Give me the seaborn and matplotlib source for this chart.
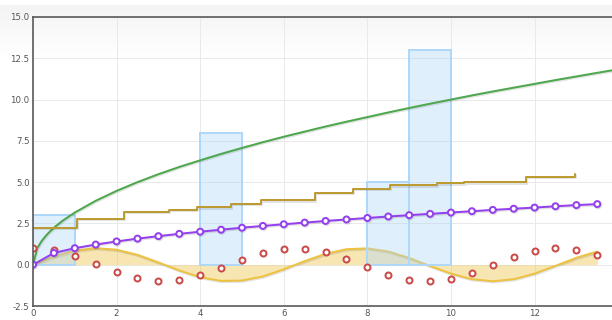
import matplotlib
matplotlib.use("Agg")
import matplotlib.pyplot as plt
import matplotlib.patheffects as pe
import numpy as np
import pandas as pd
import seaborn as sns

# ---- data ----
x_half = [0, 0.5, 1, 1.5, 2, 2.5, 3, 3.5, 4, 4.5, 5, 5.5, 6, 6.5,
          7, 7.5, 8, 8.5, 9, 9.5, 10, 10.5, 11, 11.5, 12, 12.5, 13, 13.5]
wave_area = [0, 0.48, 0.84, 1.0, 0.91, 0.6, 0.14, -0.35, -0.76, -0.98,
             -0.96, -0.71, -0.28, 0.22, 0.66, 0.94, 0.99, 0.8, 0.41, -0.08,
             -0.54, -0.88, -1.0, -0.88, -0.54, -0.07, 0.42, 0.8]
wave_points = [1.0, 0.88, 0.54, 0.07, -0.42, -0.8, -0.99, -0.94, -0.65, -0.21,
               0.28, 0.71, 0.96, 0.98, 0.75, 0.35, -0.15, -0.6, -0.91, -1.0,
               -0.84, -0.48, 0.0, 0.48, 0.84, 1.0, 0.91, 0.6]
root_points = [0, 0.71, 1.0, 1.22, 1.41, 1.58, 1.73, 1.87, 2.0, 2.12,
               2.24, 2.35, 2.45, 2.55, 2.65, 2.74, 2.83, 2.92, 3.0, 3.08,
               3.16, 3.24, 3.32, 3.39, 3.46, 3.54, 3.61, 3.67]

curve_x = [0, 0.1, 0.2, 0.3, 0.4, 0.5, 0.7, 1.0, 1.5, 2, 2.5, 3, 3.5, 4,
           4.5, 5, 5.5, 6, 6.5, 7, 7.5, 8, 8.5, 9, 9.5, 10, 10.5, 11,
           11.5, 12, 12.5, 13, 13.5, 13.9]
curve_y = [0, 1.0, 1.41, 1.73, 2.0, 2.24, 2.65, 3.16, 3.87, 4.47, 5.0, 5.48,
           5.92, 6.32, 6.71, 7.07, 7.42, 7.75, 8.06, 8.37, 8.66, 8.94, 9.22,
           9.49, 9.75, 10.0, 10.25, 10.49, 10.72, 10.95, 11.18, 11.4, 11.62,
           11.79]

bar_x = [0, 4, 8, 9]
bar_h = [3, 8, 5, 13]

step_x = [0, 1.06, 2.18, 3.26, 3.92, 4.74, 5.45, 6.75, 7.65, 8.54,
          9.66, 10.32, 11.8, 12.96]
step_y = [2.22, 2.77, 3.19, 3.33, 3.47, 3.67, 3.9, 4.36, 4.6, 4.8,
          4.93, 4.99, 5.31, 5.51]

x_ticks = [0, 2, 4, 6, 8, 10, 12]
y_ticks = [-2.5, 0.0, 2.5, 5.0, 7.5, 10.0, 12.5, 15.0]

# ---- style ----
C_YELLOW = "#edc240"
C_BLUE = "#afd8f8"
C_RED = "#cb4b4b"
C_GREEN = "#4da74d"
C_PURPLE = "#9440ed"
C_GOLD = "#bd9b33"
PX = 0.72  # one pixel in points at 100 dpi

sns.set_theme(style="white")
plt.rcParams["font.family"] = ["DejaVu Sans"]

fig = plt.figure(figsize=(6.12, 3.2), dpi=100)
fig.patch.set_facecolor("white")

# soft page shading along the top
bg = fig.add_axes([0, 0, 1, 1], zorder=-10)
grad = np.linspace(0, 1, 256).reshape(-1, 1)
bg.imshow(np.dstack([0.955 + 0.045 * grad] * 3), extent=[0, 1, 0.82, 0.985],
          aspect="auto", origin="upper", transform=bg.transAxes)
bg.set_xlim(0, 1)
bg.set_ylim(0, 1)
bg.axis("off")

ax = fig.add_axes([33 / 612, 14 / 320, 581 / 612, 289 / 320])
ax.set_facecolor("none")

shadow = [pe.SimpleLineShadow(offset=(0.6, -0.9), shadow_color="k", alpha=0.12),
          pe.Normal()]

df_half = pd.DataFrame({"x": x_half, "area": wave_area,
                        "pts": wave_points, "root": root_points})

# filled wave
ax.fill_between(x_half, wave_area, 0, color=C_YELLOW, alpha=0.4, lw=0, zorder=2)
sns.lineplot(data=df_half, x="x", y="area", color=C_YELLOW, lw=2 * PX,
             ax=ax, zorder=3, path_effects=shadow)

# bars
ax.bar(bar_x, bar_h, width=1, align="edge", color=C_BLUE, alpha=0.4,
       lw=0, zorder=3)
ax.bar(bar_x, bar_h, width=1, align="edge", facecolor="none",
       edgecolor=C_BLUE, lw=2 * PX, zorder=3)

# scattered points
sns.scatterplot(data=df_half, x="x", y="pts", marker="o", s=(6 * PX) ** 2,
                facecolor="white", edgecolor=C_RED, linewidth=2 * PX,
                ax=ax, zorder=5)

# smooth curve
sns.lineplot(x=curve_x, y=curve_y, color=C_GREEN, lw=2 * PX, ax=ax,
             zorder=4, path_effects=shadow)

# line with points
sns.lineplot(data=df_half, x="x", y="root", color=C_PURPLE, lw=2 * PX,
             marker="o", markersize=6 * PX, markerfacecolor="white",
             markeredgecolor=C_PURPLE, markeredgewidth=2 * PX,
             ax=ax, zorder=6, path_effects=shadow)

# steps
sns.lineplot(x=step_x, y=step_y, color=C_GOLD, lw=2 * PX,
             drawstyle="steps-post", ax=ax, zorder=4, path_effects=shadow)

ax.set_xlim(0, 13.9)
ax.set_ylim(-2.5, 15.0)
ax.set_xticks(x_ticks)
ax.set_xticklabels([str(t) for t in x_ticks])
ax.set_yticks(y_ticks)
ax.set_yticklabels([f"{t:.1f}" for t in y_ticks])
ax.tick_params(axis="both", length=0, labelsize=6.2, labelcolor="#545454")
ax.tick_params(axis="y", pad=2.5)
ax.tick_params(axis="x", pad=2)
ax.set_xlabel("")
ax.set_ylabel("")
ax.grid(True, color="#e9e9e9", lw=1 * PX, zorder=0)
ax.set_axisbelow(True)
for side in ["left", "bottom", "top", "right"]:
    ax.spines[side].set_visible(True)
    ax.spines[side].set_color("#545454")
    ax.spines[side].set_linewidth(1.6 * PX)
    ax.spines[side].set_zorder(10)
if ax.get_legend():
    ax.get_legend().remove()

fig.savefig("out.png", dpi=100, facecolor="white")
